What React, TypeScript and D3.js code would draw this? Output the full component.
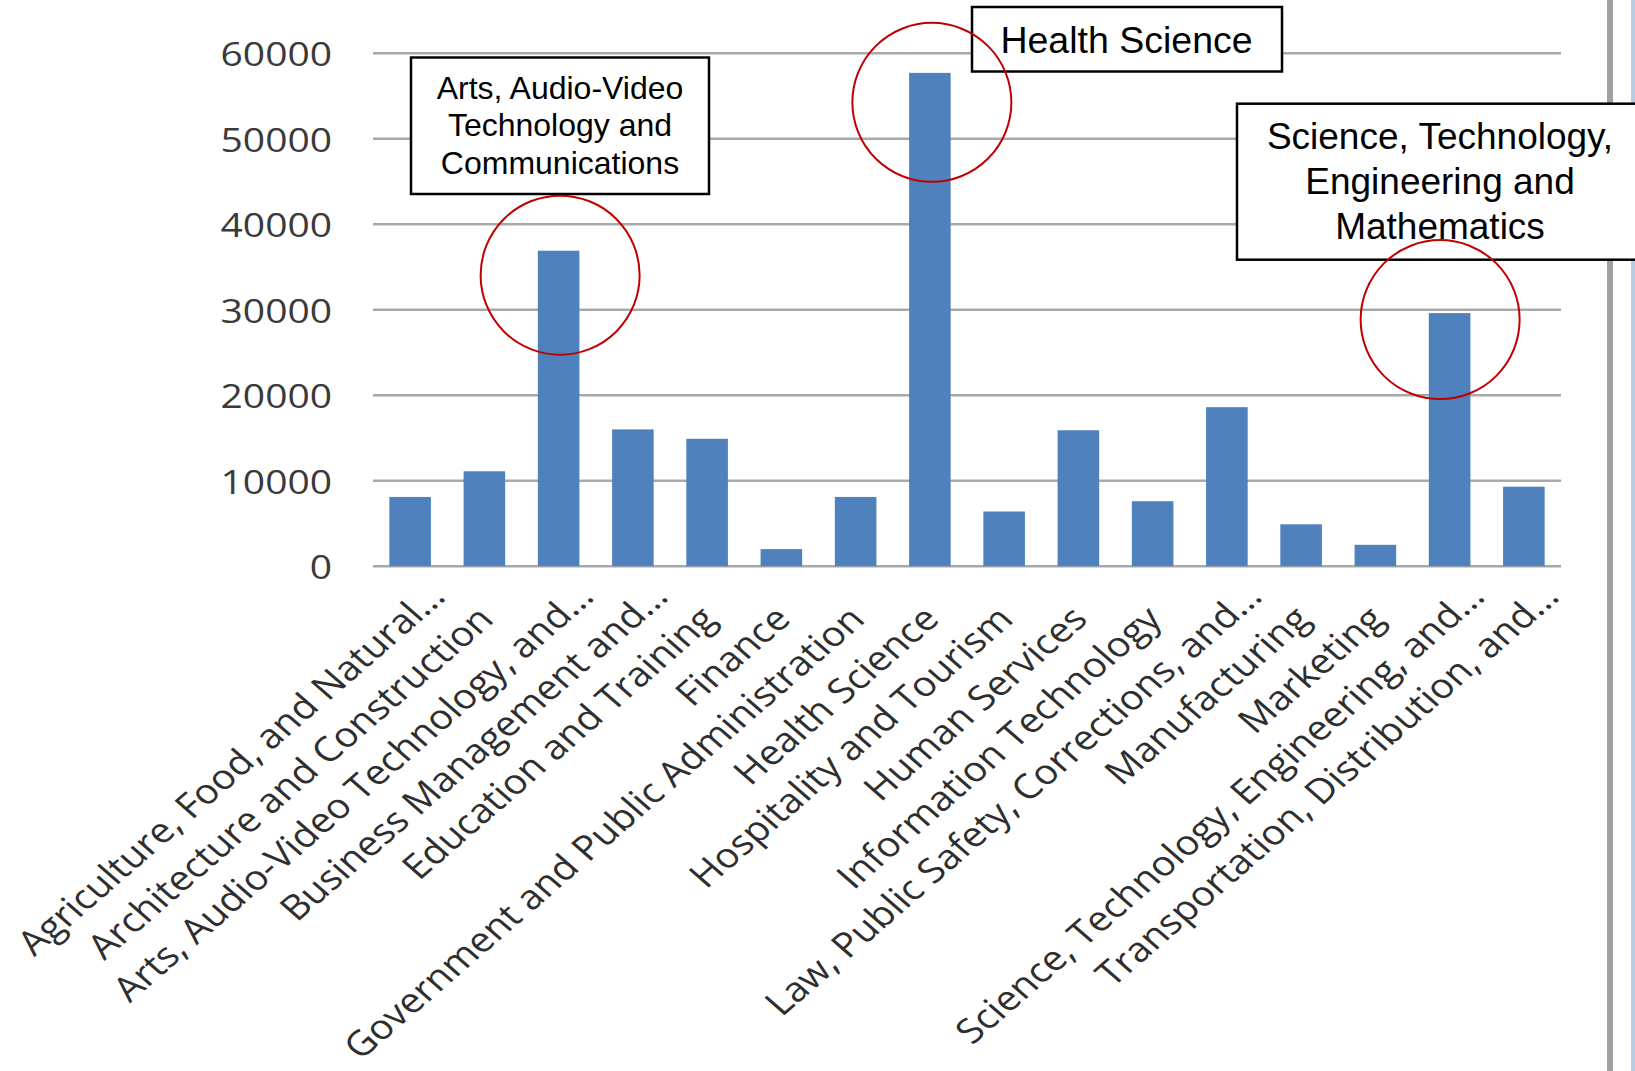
import React from "react";
import * as d3 from "d3";

// career cluster enrolment
const categories = [
  "Agriculture, Food, and Natural…",
  "Architecture and Construction",
  "Arts, Audio-Video Technology, and…",
  "Business Management and…",
  "Education and Training",
  "Finance",
  "Government and Public Administration",
  "Health Science",
  "Hospitality and Tourism",
  "Human Services",
  "Information Technology",
  "Law, Public Safety, Corrections, and…",
  "Manufacturing",
  "Marketing",
  "Science, Technology, Engineering, and…",
  "Transportation, Distribution, and…",
];

const values = [
  8100, 11100, 36900, 16000, 14900, 2000, 8100, 57700, 6400, 15900, 7600,
  18600, 4900, 2500, 29600, 9300,
];

const yTicks = [0, 10000, 20000, 30000, 40000, 50000, 60000];

const artsLines = ["Arts, Audio-Video", "Technology and", "Communications"];
const healthLines = ["Health Science"];
const stemLines = ["Science, Technology,", "Engineering and", "Mathematics"];

const W = 1635;
const H = 1071;
const STRETCH = 1.15; // the source image is stretched sideways

const App: React.FC = () => {
  const x = d3
    .scaleBand<string>()
    .domain(categories)
    .range([373, 1561])
    .paddingInner(0.44)
    .paddingOuter(0.22);

  const y = d3.scaleLinear().domain([0, 60000]).range([566.2, 53.2]);

  const cx = (i: number) => x(categories[i])! + x.bandwidth() / 2;

  const labelFont = "'Open Sans', 'DejaVu Sans', sans-serif";
  const noteFont = "'Liberation Sans', Arial, sans-serif";

  // red rings, placed against the bars they mark
  const rings = [
    { i: 2, dx: 1.5, dy: 24.5 },
    { i: 7, dx: 2, dy: 29.5 },
    { i: 14, dx: -9.5, dy: 6.5 },
  ];

  return (
    <svg
      width={W}
      height={H}
      style={{ position: "absolute", left: 0, top: 0, background: "#fff" }}
    >
      <rect x={0} y={0} width={W} height={H} fill="#fff" />

      {/* gridlines */}
      {yTicks.map((t) => (
        <line
          key={t}
          x1={373}
          x2={1561}
          y1={y(t)}
          y2={y(t)}
          stroke="#a9a9a9"
          strokeWidth={2.5}
        />
      ))}

      {/* y tick labels */}
      {yTicks.map((t) => (
        <text
          key={"t" + t}
          transform={`translate(332,${y(t) + 13.2}) scale(1.2,1)`}
          textAnchor="end"
          fontFamily={labelFont}
          fontSize={32.5}
          fill="#3a3a3a"
        >
          {t}
        </text>
      ))}

      {/* bars */}
      {values.map((v, i) => (
        <rect
          key={categories[i]}
          x={x(categories[i])}
          y={y(v)}
          width={x.bandwidth()}
          height={y(0) - y(v)}
          fill="#4f81bd"
        />
      ))}

      {/* category labels; truncated ones sit a little further out */}
      {categories.map((c, i) => (
        <text
          key={"l" + c}
          transform={`translate(${cx(i) + 11},621) scale(${STRETCH},1) rotate(-45)`}
          x={c.endsWith("…") ? 32 : 0}
          textAnchor="end"
          fontFamily={labelFont}
          fontSize={34.3}
          fill="#2e2e2e"
        >
          {c}
        </text>
      ))}

      {/* slide edge on the right */}
      <rect x={1607} y={0} width={6} height={H} fill="#a0a0a0" />
      <rect x={1631} y={0} width={4} height={H} fill="#b8cce4" />

      {/* callout boxes */}
      <rect x={411} y={57.5} width={298} height={136.5} fill="#fff" stroke="#000" strokeWidth={2.5} />
      {artsLines.map((s, k) => (
        <text key={s} x={560} y={98.6 + k * 37.8} textAnchor="middle" fontFamily={noteFont} fontSize={32} fill="#000">
          {s}
        </text>
      ))}

      <rect x={972} y={7} width={310} height={64.5} fill="#fff" stroke="#000" strokeWidth={2.5} />
      {healthLines.map((s) => (
        <text key={s} x={1126.5} y={52.5} textAnchor="middle" fontFamily={noteFont} fontSize={37.5} fill="#000">
          {s}
        </text>
      ))}

      <rect x={1237} y={103.7} width={420} height={156} fill="#fff" stroke="#000" strokeWidth={2.5} />
      {stemLines.map((s, k) => (
        <text key={s} x={1440} y={149 + k * 45} textAnchor="middle" fontFamily={noteFont} fontSize={37} fill="#000">
          {s}
        </text>
      ))}

      {rings.map((r) => (
        <circle
          key={r.i}
          cx={cx(r.i) + r.dx}
          cy={y(values[r.i]) + r.dy}
          r={79.5}
          fill="none"
          stroke="#c00000"
          strokeWidth={2}
        />
      ))}
    </svg>
  );
};

export default App;
